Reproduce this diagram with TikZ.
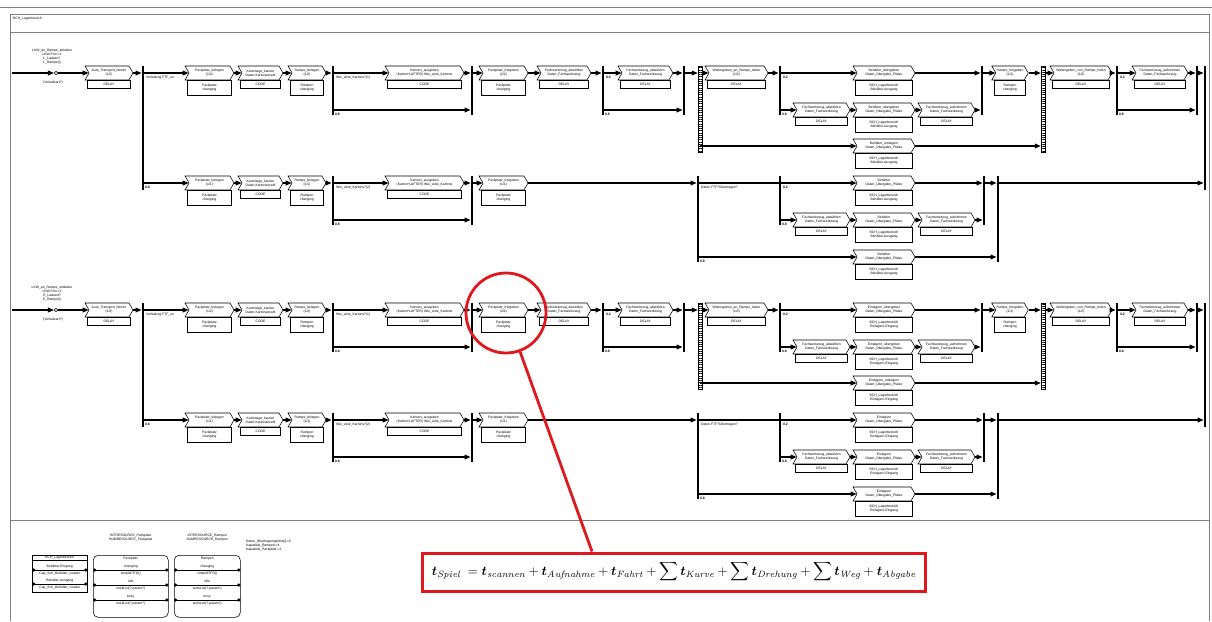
\documentclass[tikz,border=0pt]{standalone}
\usepackage{fontspec}
\usepackage{graphicx}
\usepackage{bm}
\usepackage{xcolor}
\usetikzlibrary{arrows.meta,shapes.symbols,patterns.meta}
\newfontfamily\diafont{Liberation Sans}
\definecolor{frame}{HTML}{7F7F7F}
\definecolor{mark}{HTML}{E0171C}

\tikzset{
  dia/.style={font=\diafont\fontsize{2.4}{2.7}\selectfont},
  note/.style={dia, anchor=north west, inner sep=0.2mm, align=left},
  prob/.style={font=\diafont\bfseries\fontsize{2.4}{2.7}\selectfont, anchor=north west, inner sep=0.2mm},
  proc/.style={dia, signal, signal to=east, signal from=west, signal pointer angle=120,
               draw, line width=0.4pt, fill=white, inner sep=0.2mm, minimum height=3.5mm, align=center},
  sub/.style={dia, draw, line width=0.4pt, fill=white, inner sep=0.2mm, anchor=north, align=center},
  bar/.style={fill=black, inner sep=0pt, minimum width=0.6mm, anchor=north},
  hbar/.style={draw, line width=0.3pt, inner sep=0pt, minimum width=1mm, anchor=north,
               pattern={Lines[angle=0,distance=1.6pt,line width=0.35pt]}},
  dot/.style={circle, draw, fill=white, line width=0.4pt, inner sep=0pt, minimum size=0.9mm},
  flow/.style={arrows={-Triangle[length=1.5mm,width=1.2mm]}, line width=0.8pt},
  link/.style={line width=0.8pt},
  box/.style={draw, line width=0.4pt, anchor=north west, inner sep=0pt},
  port/.style={arrows={Circle[length=0.8mm]-Circle[length=0.8mm]}, line width=0.5pt},
  hilite/.style={circle, draw=mark, line width=0.7mm, minimum size=20mm, inner sep=0pt},
  formula/.style={draw=mark, line width=0.75mm, fill=white, minimum width=125.5mm,
                  minimum height=9.5mm, inner sep=0pt}
}

% activity: name, position, width, head, body
\newcommand{\pbox}[6][2mm]{%
  \node[proc, minimum width=#4] (#2) at (#3) {#5};
  \node[sub, minimum width=#4-1.2mm, minimum height=#1] (#2s) at (#2.south) {#6};}

% one block of two rows: prefix, start label, item, port
\newcommand{\lagerblock}[4]{%
  % upper row
  \coordinate (#1in) at (12,73);
  \node[dot] (#1st) at (56,73) {};
  \node[dia, align=center, anchor=south] (#1lb) at (52,69) {#2};
  \node[dia, anchor=north] (#1lc) at (53,76) {(Verladeart?)};
  \pbox{#1b1}{109,73}{12mm}{Auto\_Transport\_fahren\\(1/2)}{DELAY}
  \node[bar, minimum height=31mm] (#1j1) at (143,66) {};
  \node[note] (#1t1) at (145,75) {Verladung.FTF\_on};
  \pbox[3.7mm]{#1b2}{209.5,73}{12.25mm}{Packplatz\_belegen\\(1/2)}{Packplatz\\changing}
  \pbox{#1b3}{260.5,73}{11.25mm}{Kartonage\_kaufen\\Daten.Kartonanzahl}{CODE}
  \pbox[3.7mm]{#1b4}{307,73}{9.5mm}{Rampe\_belegen\\(1/2)}{Rampen\\changing}
  \node[bar, minimum height=12.25mm] (#1j2) at (333,66) {};
  \node[note] (#1t2) at (335,75) {Wie\_viele\_Kartons?(1)};
  \pbox{#1b5}{424.5,73}{19.75mm}{Kartons\_ausgeben\\(Karton*LUFTER) Wie\_viele\_Kartons}{CODE}
  \node[bar, minimum height=12.25mm] (#1j3) at (472,66) {};
  \pbox[3.7mm]{#1b6}{503.5,73}{12.25mm}{Packplatz\_freigeben\\(2/2)}{Packplatz\\changing}
  \pbox{#1b7}{564,73}{13.5mm}{Fachwerkzeug\_abwählen\\Daten\_Fachwerkzeug}{DELAY}
  \node[bar, minimum height=12.25mm] (#1j4) at (603,66) {};
  \pbox{#1b8}{645.5,73}{13.75mm}{Fachwerkzeug\_abwählen\\Daten\_Fachwerkzeug}{DELAY}
  \node[bar, minimum height=12.25mm] (#1j5) at (684,66) {};
  \node[hbar, minimum height=21.5mm] (#1h1) at (700,66) {};
  \pbox{#1b9}{736.5,73}{15.75mm}{Weitergeben\_an\_Rampe\_laden\\(1/2)}{DELAY}
  \node[bar, minimum height=12.25mm] (#1j6) at (780,66) {};
  \pbox[3.7mm]{#1b10}{884,73}{15.5mm}{#3\_übergeben\\Daten\_Übergabe\_Plätze}{BCH\_Lagerbereich\\#3-#4}
  \pbox{#1b11}{821.5,110}{14.25mm}{Fachwerkzeug\_abwählen\\Daten\_Fachwerkzeug}{DELAY}
  \pbox[3.7mm]{#1b12}{884,110}{15.5mm}{#3\_übergeben\\Daten\_Übergabe\_Plätze}{BCH\_Lagerbereich\\#3-#4}
  \pbox{#1b13}{946.5,110}{14.25mm}{Fachwerkzeug\_aufnehmen\\Daten\_Fachwerkzeug}{DELAY}
  \pbox[3.7mm]{#1b14}{884,146}{15.5mm}{#3\_umlagern\\Daten\_Übergabe\_Plätze}{BCH\_Lagerbereich\\#3-#4}
  \node[bar, minimum height=12.25mm] (#1j7) at (982,66) {};
  \pbox[3.7mm]{#1b15}{1010,73}{9mm}{Rampe\_freigeben\\(1/1)}{Rampen\\changing}
  \node[hbar, minimum height=21.5mm] (#1h2) at (1043,66) {};
  \pbox{#1b16}{1081,73}{15.5mm}{Weitergeben\_von\_Rampe\_holen\\(1/2)}{DELAY}
  \node[bar, minimum height=12.25mm] (#1j8) at (1117,66) {};
  \pbox{#1b17}{1160,73}{14mm}{Fachwerkzeug\_aufnehmen\\Daten\_Fachwerkzeug}{DELAY}
  \node[bar, minimum height=12.25mm] (#1j9) at (1197,66) {};
  \node[bar, minimum height=31mm] (#1j10) at (1205,66) {};
  \draw[flow] (#1in) -- (#1st);
  \draw[flow] (#1st) -- (#1b1.west);
  \draw[flow] (#1b1.east) -- (#1b1.east -| #1j1.west);
  \draw[flow] (#1b2.west -| #1j1.east) -- (#1b2.west);
  \draw[flow] (#1b2.east) -- (#1b3.west);
  \draw[flow] (#1b3.east) -- (#1b4.west);
  \draw[flow] (#1b4.east) -- (#1b4.east -| #1j2.west);
  \draw[flow] (#1b5.west -| #1j2.east) -- (#1b5.west);
  \draw[flow] (#1b5.east) -- (#1b5.east -| #1j3.west);
  \draw[flow] (#1b6.west -| #1j3.east) -- (#1b6.west);
  \draw[flow] (#1b6.east) -- (#1b7.west);
  \draw[flow] (#1b7.east) -- (#1b7.east -| #1j4.west);
  \draw[flow] (#1b8.west -| #1j4.east) -- (#1b8.west);
  \draw[flow] (#1b8.east) -- (#1b8.east -| #1j5.west);
  \draw[flow] (#1b8.east -| #1j5.east) -- (#1b8.east -| #1h1.west);
  \draw[flow] (#1b9.west -| #1h1.east) -- (#1b9.west);
  \draw[flow] (#1b9.east) -- (#1b9.east -| #1j6.west);
  \draw[flow] (#1b10.west -| #1j6.east) -- (#1b10.west);
  \draw[flow] (#1b10.east) -- (#1b10.east -| #1j7.west);
  \draw[flow] (#1b15.west -| #1j7.east) -- (#1b15.west);
  \draw[flow] (#1b15.east) -- (#1b15.east -| #1h2.west);
  \draw[flow] (#1b16.west -| #1h2.east) -- (#1b16.west);
  \draw[flow] (#1b16.east) -- (#1b16.east -| #1j8.west);
  \draw[flow] (#1b17.west -| #1j8.east) -- (#1b17.west);
  \draw[flow] (#1b17.east) -- (#1b17.east -| #1j9.west);
  \draw[flow] (#1b17.east -| #1j9.east) -- (#1b17.east -| #1j10.west);
  % upper row, side branches
  \coordinate (#1s2) at (333,110);
  \draw[flow] (#1s2) -- (#1s2 -| #1j3.west);
  \coordinate (#1s4) at (603,110);
  \draw[flow] (#1s4) -- (#1s4 -| #1j5.west);
  \coordinate (#1s6) at (780,110);
  \draw[flow] (#1s6) -- (#1b11.west);
  \draw[flow] (#1b11.east) -- (#1b12.west);
  \draw[flow] (#1b12.east) -- (#1b13.west);
  \draw[flow] (#1b13.east) -- (#1b13.east -| #1j7.west);
  \coordinate (#1s7) at (700,146);
  \draw[flow] (#1s7) -- (#1b14.west);
  \draw[flow] (#1b14.east) -- (#1b14.east -| #1h2.west);
  \coordinate (#1s8) at (1117,110);
  \draw[flow] (#1s8) -- (#1s8 -| #1j9.west);
  \node[prob] (#1p2) at (334,112) {0.8};
  \node[prob] (#1p4) at (604,112) {0.8};
  \node[prob] (#1p6) at (781,112) {0.8};
  \node[prob] (#1p8) at (1118,112) {0.8};
  \node[prob] (#1q4) at (605,75) {0.2};
  \node[prob] (#1q6) at (782,75) {0.2};
  \node[prob] (#1q8) at (1119,75) {0.2};
  % lower row
  \coordinate (#1s1) at (143,183);
  \pbox[3.7mm]{#1c2}{209.5,183}{12.25mm}{Packplatz\_belegen\\(1/1)}{Packplatz\\changing}
  \pbox{#1c3}{260.5,183}{11.25mm}{Kartonage\_kaufen\\Daten.Kartonanzahl}{CODE}
  \pbox[3.7mm]{#1c4}{307,183}{9.5mm}{Rampe\_belegen\\(1/1)}{Rampen\\changing}
  \node[bar, minimum height=12.25mm] (#1k1) at (333,176) {};
  \node[note] (#1t3) at (335,185) {Wie\_viele\_Kartons?(2)};
  \pbox{#1c5}{424.5,183}{19.75mm}{Kartons\_ausgeben\\(Karton*LUFTER) Wie\_viele\_Kartons}{CODE}
  \node[bar, minimum height=12.25mm] (#1k2) at (472,176) {};
  \pbox[3.7mm]{#1c6}{503.5,183}{12.25mm}{Packplatz\_freigeben\\(1/1)}{Packplatz\\changing}
  \node[bar, minimum height=21.5mm] (#1k3) at (698,176) {};
  \node[note] (#1t4) at (700,185) {Daten.FTF?Übertragen?};
  \node[bar, minimum height=12.25mm] (#1k4) at (780,176) {};
  \pbox[3.7mm]{#1c7}{884,183}{15.5mm}{#3\\Daten\_Übergabe\_Plätze}{BCH\_Lagerbereich\\#3-#4}
  \pbox{#1c8}{821.5,220}{14.25mm}{Fachwerkzeug\_abwählen\\Daten\_Fachwerkzeug}{DELAY}
  \pbox[3.7mm]{#1c9}{884,220}{15.5mm}{#3\\Daten\_Übergabe\_Plätze}{BCH\_Lagerbereich\\#3-#4}
  \pbox{#1c10}{946.5,220}{14.25mm}{Fachwerkzeug\_aufnehmen\\Daten\_Fachwerkzeug}{DELAY}
  \pbox[3.7mm]{#1c11}{884,257}{15.5mm}{#3\\Daten\_Übergabe\_Plätze}{BCH\_Lagerbereich\\#3-#4}
  \node[bar, minimum height=12.25mm] (#1k5) at (984,176) {};
  \node[bar, minimum height=21.5mm] (#1k6) at (998,176) {};
  \draw[flow] (#1s1) -- (#1c2.west);
  \draw[flow] (#1c2.east) -- (#1c3.west);
  \draw[flow] (#1c3.east) -- (#1c4.west);
  \draw[flow] (#1c4.east) -- (#1c4.east -| #1k1.west);
  \draw[flow] (#1c5.west -| #1k1.east) -- (#1c5.west);
  \draw[flow] (#1c5.east) -- (#1c5.east -| #1k2.west);
  \draw[flow] (#1c6.west -| #1k2.east) -- (#1c6.west);
  \draw[flow] (#1c6.east) -- (#1c6.east -| #1k3.west);
  \draw[link] (#1c6.east -| #1k3.east) -- (#1c6.east -| #1k4.west);
  \draw[flow] (#1c7.west -| #1k4.east) -- (#1c7.west);
  \draw[flow] (#1c7.east) -- (#1c7.east -| #1k5.west);
  \draw[flow] (#1c7.east -| #1k5.east) -- (#1c7.east -| #1k6.west);
  \draw[flow] (#1c7.east -| #1k6.east) -- (#1c7.east -| #1j10.west);
  \coordinate (#1s3) at (333,220);
  \draw[flow] (#1s3) -- (#1s3 -| #1k2.west);
  \coordinate (#1s9) at (780,220);
  \draw[flow] (#1s9) -- (#1c8.west);
  \draw[flow] (#1c8.east) -- (#1c9.west);
  \draw[flow] (#1c9.east) -- (#1c10.west);
  \draw[flow] (#1c10.east) -- (#1c10.east -| #1k5.west);
  \coordinate (#1s10) at (698,257);
  \draw[flow] (#1s10) -- (#1c11.west);
  \draw[flow] (#1c11.east) -- (#1c11.east -| #1k6.west);
  \node[prob] (#1p1) at (144,185) {0.8};
  \node[prob] (#1p3) at (334,222) {0.8};
  \node[prob] (#1p9) at (781,222) {0.8};
  \node[prob] (#1p10) at (699,259) {0.8};
  \node[prob] (#1q9) at (782,185) {0.2};
}

\begin{document}
\begin{tikzpicture}[x=0.25mm, y=-0.25mm]
  \useasboundingbox (0,0) rectangle (1212,621);
  % frame
  \draw[frame, line width=0.5pt] (0,7) -- (1212,7);
  \draw[frame, line width=0.6pt] (10,621) -- (10,14) -- (1209,14) -- (1209,621);
  \draw[frame, line width=0.6pt] (10,32) -- (1209,32);
  \draw[frame, line width=0.6pt] (10,520) -- (1209,520);
  \node[note] (title) at (12,16) {BCH\_Lagerbereich};
  % loading
  \lagerblock{a}{LKW\_an\_Rampe\_beladen\\LKW.Prio:=1\\L\_Ladeart?\\L\_Rampe(i)}{Behälter}{Ausgang}
  % unloading
  \begin{scope}[yshift=-59.25mm]
    \lagerblock{b}{LKW\_an\_Rampe\_entladen\\LKW.Prio:=2\\E\_Ladeart?\\E\_Rampe(i)}{Einlagern}{Eingang}
  \end{scope}
  % legend
  \node[box, minimum width=13.75mm, minimum height=9.25mm] (lg) at (32,555) {};
  \node[dia] (lgt) at ([yshift=-0.6mm]lg.north) {BCH\_Lagerbereich};
  \draw[line width=0.3pt] ([yshift=-1.25mm]lg.north west) -- ([yshift=-1.25mm]lg.north east);
  \foreach \dy/\nm/\txt in {3.75/1/Eingang, 7.25/2/Ausgang} {
    \draw[port] ([yshift=-\dy mm]lg.north west) -- ([yshift=-\dy mm]lg.north east);
    \node[dia] (lg\nm a) at ([yshift=-\dy mm+0.9mm]lg.north) {Behälter-\txt};
    \node[dia] (lg\nm b) at ([yshift=-\dy mm-0.8mm]lg.north) {Cap\_Sch\_Behälter\_Leader};
  }
  \foreach \nm/\xx/\bw/\res in {ra/93/18.75/Packplatz, rb/174/16.5/Rampen} {
    \node[box, rounded corners=1.2mm, minimum width=\bw mm, minimum height=15.5mm] (\nm) at (\xx,555) {};
    \node[dia, align=center, anchor=south] (\nm h) at ([yshift=2.2mm]\nm.north) {INTRESOURCE\_\res\\NUMRESOURCE\_\res};
    \node[dia] (\nm t) at ([yshift=-1mm]\nm.north) {\res};
    \foreach \dy/\st/\fn in {3.75/changing/{simpleFIFO()}, 7.5/idle/{workList(?,param?)}, 11.25/busy/{workList(?,param?)}} {
      \draw[port] ([yshift=-\dy mm]\nm.north west) -- ([yshift=-\dy mm]\nm.north east);
      \node[dia] (\nm\st) at ([yshift=-\dy mm+0.9mm]\nm.north) {\st};
      \node[dia] (\nm\st f) at ([yshift=-\dy mm-0.8mm]\nm.north) {\fn};
    }
  }
  \node[note] (vars) at (245,539) {Daten\_Übertragungsliste[i]:=0\\Kapazität\_Rampen:=4\\Kapazität\_Packplatz:=1};
  % highlight
  \node[hilite] (hl) at (506,313) {};
  \node[formula] (fml) at (674,572) {\resizebox{121mm}{!}{$\displaystyle \bm{t}_{\mathit{Spiel}}\; = \bm{t}_{\mathit{scannen}} + \bm{t}_{\mathit{Aufnahme}} + \bm{t}_{\mathit{Fahrt}} + \sum \bm{t}_{\mathit{Kurve}} + \sum \bm{t}_{\mathit{Drehung}} + \sum \bm{t}_{\mathit{Weg}} + \bm{t}_{\mathit{Abgabe}}$}};
  \draw[draw=mark, line width=0.7mm] (hl.-70) -- ([xshift=-20.5mm]fml.north);
\end{tikzpicture}
\end{document}
